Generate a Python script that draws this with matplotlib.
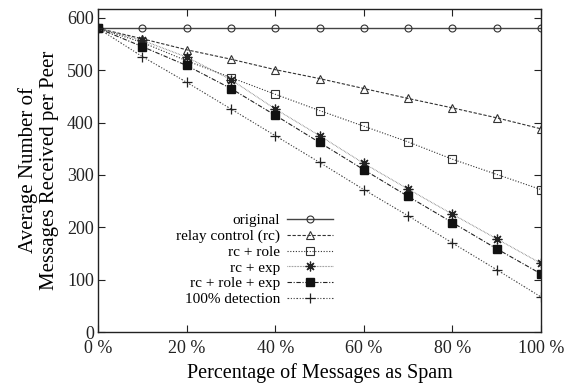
import numpy as np
import matplotlib
matplotlib.use("Agg")
import matplotlib.pyplot as plt

plt.rcParams['font.family'] = ['Liberation Serif', 'DejaVu Serif']

# percentage of messages as spam
spam = [0, 10, 20, 30, 40, 50, 60, 70, 80, 90, 100]

original = [580, 580, 580, 580, 580, 580, 580, 580, 580, 580, 580]
relay_control = [580, 560, 539, 521, 501, 484, 465, 446, 428, 409, 388]
rc_role = [580, 553, 518, 486, 454, 423, 393, 363, 330, 301, 272]
rc_exp = [580, 557, 525, 482, 426, 375, 322, 273, 225, 178, 131]
rc_role_exp = [580, 545, 509, 465, 414, 362, 310, 259, 209, 159, 111]
detection = [580, 526, 477, 426, 375, 324, 272, 222, 170, 119, 67]

labels = ["original", "relay control (rc)", "rc + role", "rc + exp",
          "rc + role + exp", "100% detection"]
xticks = [0, 20, 40, 60, 80, 100]
yticks = [0, 100, 200, 300, 400, 500, 600]

fig = plt.figure(figsize=(5.68, 3.87), dpi=100)
ax = fig.add_axes([0.1725, 0.142, 0.78, 0.835])

lw = 0.8
ax.plot(spam, original, color='#444444', lw=1.0, ls='-', marker='o',
        ms=5, mfc='none', mec='#333333', mew=0.8, label=labels[0])
ax.plot(spam, relay_control, color='#333333', lw=lw, ls=(0, (3, 1.5)),
        marker='^', ms=5.5, mfc='none', mec='#333333', mew=0.8, label=labels[1])
ax.plot(spam, rc_role, color='#333333', lw=lw, ls=(0, (1, 1.5)),
        marker='s', ms=5.5, mfc='none', mec='#333333', mew=0.8, label=labels[2])
ax.plot(spam, rc_exp, color='#777777', lw=lw, ls=(0, (0.6, 0.8)),
        marker=(8, 2, 0), ms=7, mec='#222222', mew=0.9, label=labels[3])
ax.plot(spam, rc_role_exp, color='#222222', lw=lw, ls=(0, (4, 1.5, 1, 1.5)),
        marker='s', ms=6, mfc='#111111', mec='#111111', label=labels[4])
ax.plot(spam, detection, color='#444444', lw=lw, ls=(0, (1.5, 1.5, 1, 1.5, 1, 1.5)),
        marker='+', ms=7, mec='#222222', mew=0.9, label=labels[5])

ax.set_xlim(0, 100)
ax.set_ylim(0, 617)
ax.set_xticks(xticks)
ax.set_xticklabels([f"{t} %" for t in xticks])
ax.set_yticks(yticks)
ax.tick_params(direction='in', top=True, right=True, length=5, width=0.8,
               labelsize=13, colors='#222222')
ax.tick_params(axis='x', pad=6)
ax.tick_params(axis='y', pad=3)
for s in ax.spines.values():
    s.set_linewidth(1.0)
    s.set_color('#222222')

ax.set_xlabel("Percentage of Messages as Spam", fontsize=14.5, labelpad=4)
ax.set_ylabel("Average Number of\nMessages Received per Peer", fontsize=15,
              linespacing=1.1, labelpad=6)

ax.legend(loc='upper right', bbox_to_anchor=(0.5435, 0.385), frameon=False,
          markerfirst=False, fontsize=11, handlelength=3.0, handletextpad=0.45,
          labelspacing=0.13, borderaxespad=0)

fig.savefig("out.png", dpi=100)
